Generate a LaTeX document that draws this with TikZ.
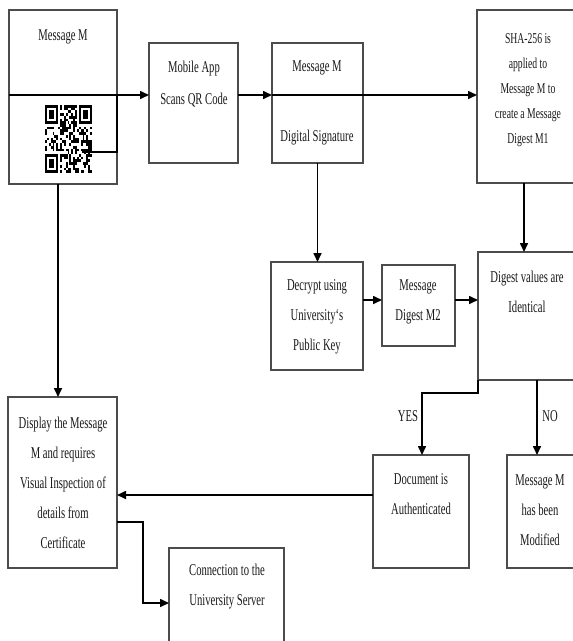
\documentclass[tikz,border=0pt]{standalone}
\usepackage{fontspec}
\setmainfont{Liberation Serif}[FakeStretch=0.645]
\usetikzlibrary{arrows.meta}
\begin{document}
\begin{tikzpicture}[x=1pt,y=-1pt,
  box/.style={draw=black!70, line width=1.4pt, outer sep=0pt, inner sep=0pt},
  txt/.style={align=center, inner sep=0pt, text=black!90, font=\fontsize{16.5}{30}\selectfont},
  arr/.style={draw=black, line width=1.6pt, -{Triangle[length=9pt,width=8pt]}},
  ln/.style={draw=black, line width=1.6pt}]
\useasboundingbox (0,0) rectangle (573,641);
\clip (0,0) rectangle (573,641);
\fill[white] (0,0) rectangle (573,641);
% boxes
\node[box, minimum width=108pt, minimum height=174pt] (m1) at (63,97) {};
\node[box, minimum width=89pt, minimum height=120pt] (app) at (193.5,103) {};
\node[box, minimum width=91pt, minimum height=120pt] (sig) at (317.5,103) {};
\node[box, minimum width=123pt, minimum height=173pt] (sha) at (538.5,96.5) {};
\node[box, minimum width=92pt, minimum height=108pt] (dec) at (317,316) {};
\node[box, minimum width=73pt, minimum height=81pt] (m2) at (418.5,305.5) {};
\node[box, minimum width=122pt, minimum height=128pt] (dig) at (539,316) {};
\node[box, minimum width=96pt, minimum height=113pt] (doc) at (421,511.5) {};
\node[box, minimum width=93pt, minimum height=113pt] (mod) at (553.5,511.5) {};
\node[box, minimum width=109pt, minimum height=171pt] (disp) at (62.5,482.5) {};
\node[box, minimum width=115pt, minimum height=112pt] (conn) at (226.5,604) {};
% QR code
\begin{scope}[shift={(45,105)}, x=1.88pt, y=-2.72pt]
  \pgfmathsetseed{11}
  \foreach \i in {0,...,24}{
    \foreach \j in {0,...,24}{
      \pgfmathtruncatemacro\inf{((\i<8)&&(\j<8))||((\i>16)&&(\j<8))||((\i<8)&&(\j>16))}
      \pgfmathtruncatemacro\bit{rnd>0.5}
      \ifnum\inf=0 \ifnum\bit=1 \fill[black] (\i,\j) rectangle ++(1,1); \fi\fi
    }
  }
  \foreach \a/\b in {0/0,18/0,0/18}{
    \fill[black] (\a,\b) rectangle ++(7,7);
    \fill[white] (\a+1,\b+1) rectangle ++(5,5);
    \fill[black] (\a+2,\b+2) rectangle ++(3,3);
  }
\end{scope}
% texts
\node[txt] (t1) at (63,37) {Message M};
\node[txt, font=\fontsize{16.5}{32}\selectfont] (t2) at (194,84) {Mobile App\\Scans QR Code};
\node[txt] (t3) at (317,68) {Message M};
\node[txt] (t4) at (317,138) {Digital Signature};
\node[txt, font=\fontsize{15}{25}\selectfont] (t5) at (528,90) {SHA-256 is\\applied to\\Message M to\\create a Message\\Digest M1};
\node[txt] (t6) at (317,317) {Decrypt using\\University‘s\\Public Key};
\node[txt] (t7) at (418,302) {Message\\Digest M2};
\node[txt] (t8) at (527,292) {Digest values are\\Identical};
\node[txt] (yes) at (408,416) {YES};
\node[txt] (no) at (550,416) {NO};
\node[txt] (t9) at (421,494) {Document is\\Authenticated};
\node[txt] (t10) at (540,510) {Message M\\has been\\Modified};
\node[txt] (t11) at (63,483) {Display the Message\\M and requires\\Visual Inspection of\\details from\\Certificate};
\node[txt] (t12) at (227,587) {Connection to the\\University Server};
% connectors
\coordinate (d1) at (9,95);
\coordinate (qr) at (82,152);
\draw[ln] (d1) -- (d1 -| m1.east);
\draw[ln] (qr) -- (qr -| m1.east) -- (d1 -| m1.east);
\draw[arr] (d1 -| m1.east) -- (d1 -| app.west);
\draw[arr] (d1 -| app.east) -- (d1 -| sig.west);
\draw[ln] (d1 -| sig.west) -- (d1 -| sig.east);
\draw[arr] (d1 -| sig.east) -- (d1 -| sha.west);
\draw[arr] (sig.south) -- (sig.south |- dec.north);
\draw[arr] ([xshift=47pt]sha.south west) -- ([xshift=46pt]dig.north west);
\coordinate (r1) at (0,300);
\draw[arr] (r1 -| dec.east) -- (r1 -| m2.west);
\draw[arr] (r1 -| m2.east) -- (r1 -| dig.west);
\coordinate (y1) at (422,393);
\draw[arr] (dig.south west) -- (dig.south west |- y1) -- (y1) -- (y1 |- doc.north);
\draw[arr] ([xshift=59pt]dig.south west) -- ([xshift=30pt]mod.north west);
\coordinate (r2) at (0,495);
\draw[arr] (r2 -| doc.west) -- (r2 -| disp.east);
\coordinate (c1) at (143,522);
\coordinate (c2) at (143,603);
\draw[arr] (c1 -| disp.east) -- (c1) -- (c2) -- (c2 -| conn.west);
\draw[arr] ([xshift=-5pt]m1.south) -- ([xshift=-4.5pt]disp.north);
\end{tikzpicture}
\end{document}
